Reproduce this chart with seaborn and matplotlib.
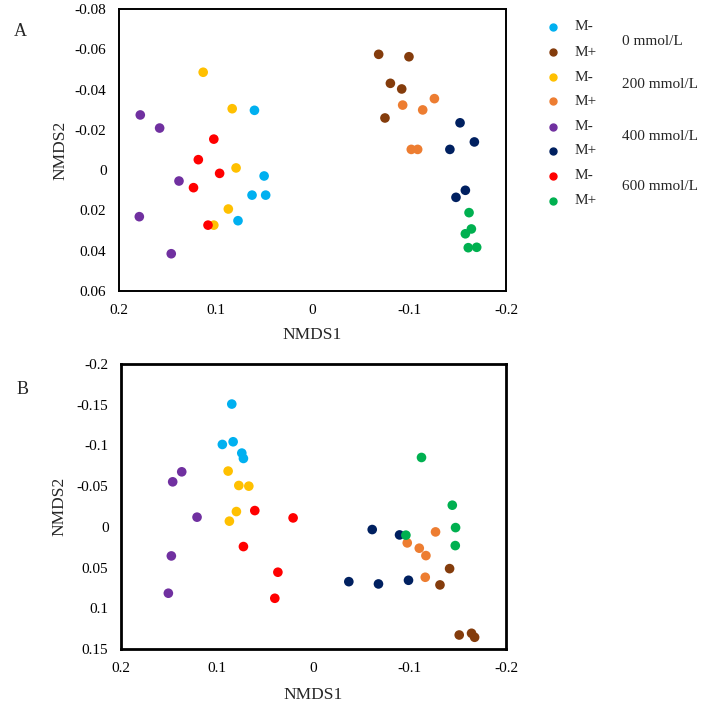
import pandas as pd
import seaborn as sns
import matplotlib.pyplot as plt
from matplotlib.lines import Line2D
from matplotlib.ticker import FuncFormatter

# Groups: salt concentration x mycorrhiza (M- / M+)
groups = ["0 M-", "0 M+", "200 M-", "200 M+", "400 M-", "400 M+", "600 M-", "600 M+"]
colors = ["#00B0F0", "#843C0C", "#FFC000", "#ED7D31", "#7030A0", "#002060", "#FF0000", "#00B050"]
legend_labels = ["M-", "M+", "M-", "M+", "M-", "M+", "M-", "M+"]
conc_labels = ["0 mmol/L", "200 mmol/L", "400 mmol/L", "600 mmol/L"]

# Panel A NMDS scores
a_x = {
    "0 M-": [0.060, 0.050, 0.0625, 0.0484, 0.077],
    "0 M+": [-0.0684, -0.0997, -0.0805, -0.0922, -0.0749],
    "200 M-": [0.113, 0.083, 0.079, 0.087, 0.102],
    "200 M+": [-0.126, -0.0932, -0.1139, -0.1021, -0.1087],
    "400 M-": [0.178, 0.158, 0.138, 0.179, 0.146],
    "400 M+": [-0.1525, -0.1673, -0.142, -0.158, -0.1483],
    "600 M-": [0.102, 0.118, 0.096, 0.123, 0.108],
    "600 M+": [-0.1618, -0.1642, -0.158, -0.161, -0.1697],
}
a_y = {
    "0 M-": [-0.0297, 0.0029, 0.0124, 0.0124, 0.0251],
    "0 M+": [-0.0575, -0.0563, -0.0431, -0.0403, -0.0259],
    "200 M-": [-0.0486, -0.0305, -0.0011, 0.0193, 0.0273],
    "200 M+": [-0.0355, -0.0323, -0.0299, -0.0103, -0.0103],
    "400 M-": [-0.0274, -0.0209, 0.0054, 0.0231, 0.0415],
    "400 M+": [-0.0235, -0.0140, -0.0103, 0.0100, 0.0135],
    "600 M-": [-0.0154, -0.0052, 0.0016, 0.0087, 0.0273],
    "600 M+": [0.0211, 0.0292, 0.0316, 0.0385, 0.0383],
}

# Panel B NMDS scores
b_x = {
    "0 M-": [0.0849, 0.0947, 0.0835, 0.0745, 0.0728],
    "0 M+": [-0.1414, -0.1314, -0.1514, -0.1642, -0.1674],
    "200 M-": [0.0887, 0.0776, 0.0672, 0.0801, 0.0874],
    "200 M+": [-0.1268, -0.0974, -0.1099, -0.1168, -0.1161],
    "400 M-": [0.1369, 0.1463, 0.121, 0.1477, 0.1508],
    "400 M+": [-0.061, -0.0894, -0.0367, -0.0675, -0.0987],
    "600 M-": [0.061, 0.0212, 0.0728, 0.037, 0.0402],
    "600 M+": [-0.1122, -0.1442, -0.1476, -0.1473, -0.096],
}
b_y = {
    "0 M-": [-0.1508, -0.1012, -0.1045, -0.0906, -0.0840],
    "0 M+": [0.0513, 0.0713, 0.1328, 0.1307, 0.1356],
    "200 M-": [-0.0685, -0.0508, -0.0500, -0.0188, -0.0070],
    "200 M+": [0.0062, 0.0197, 0.0262, 0.0353, 0.0619],
    "400 M-": [-0.0676, -0.0553, -0.0119, 0.0357, 0.0815],
    "400 M+": [0.0033, 0.0099, 0.0673, 0.0701, 0.0656],
    "600 M-": [-0.020, -0.011, 0.0242, 0.0557, 0.0877],
    "600 M+": [-0.0852, -0.0266, 0.0009, 0.0230, 0.0102],
}

a_yticks = [-0.08, -0.06, -0.04, -0.02, 0, 0.02, 0.04, 0.06]
b_yticks = [-0.2, -0.15, -0.1, -0.05, 0, 0.05, 0.1, 0.15]
xticks = [0.2, 0.1, 0, -0.1, -0.2]


def to_frame(xs, ys):
    rows = []
    for g in groups:
        for x, y in zip(xs[g], ys[g]):
            rows.append({"group": g, "NMDS1": x, "NMDS2": y})
    return pd.DataFrame(rows)


sns.set_style("white")
plt.rcParams["font.family"] = ["Liberation Serif", "DejaVu Serif"]

fig = plt.figure(figsize=(7.1, 7.06), dpi=100)
W, H = 710, 706

fmt = FuncFormatter(lambda v, p: f"{round(v, 4) + 0.0:g}")
palette = dict(zip(groups, colors))


def draw_panel(rect, xs, ys, yticks, lw, letter, letter_pos, xlab_y, ylab_x):
    left, top, right, bottom = rect
    ax = fig.add_axes([left / W, 1 - bottom / H, (right - left) / W, (bottom - top) / H])
    df = to_frame(xs, ys)
    sns.scatterplot(data=df, x="NMDS1", y="NMDS2", hue="group", hue_order=groups,
                    palette=palette, s=48, linewidth=0, legend=False, ax=ax)
    ax.set_xlim(0.2, -0.2)
    ax.set_ylim(yticks[-1], yticks[0])
    ax.set_xticks(xticks)
    ax.set_yticks(yticks)
    ax.xaxis.set_major_formatter(fmt)
    ax.yaxis.set_major_formatter(fmt)
    ax.tick_params(length=0, labelsize=11, pad=9, colors="black")
    for sp in ax.spines.values():
        sp.set_visible(True)
        sp.set_color("black")
        sp.set_linewidth(lw)
    ax.set_xlabel("NMDS1", fontsize=12.5, va="center")
    ax.set_ylabel("NMDS2", fontsize=12.5, va="center")
    ax.xaxis.set_label_coords(0.5, xlab_y)
    ax.yaxis.set_label_coords(ylab_x, 0.5)
    fig.text(letter_pos[0] / W, 1 - letter_pos[1] / H, letter, fontsize=13,
             ha="center", va="center")
    return ax


draw_panel((119, 9, 506, 291), a_x, a_y, a_yticks, 1.4, "A", (20, 32), -0.156, -0.152)
draw_panel((121, 364, 506, 649), b_x, b_y, b_yticks, 2.0, "B", (23, 390), -0.162, -0.159)

# Legend to the right of panel A
row_y = [26.7, 52.3, 77.3, 101.3, 126.7, 151.0, 175.7, 201.0]
for c, lab, y in zip(colors, legend_labels, row_y):
    fig.add_artist(Line2D([553 / W], [1 - y / H], transform=fig.transFigure,
                          marker="o", ls="", color=c, markersize=5))
    fig.text(575 / W, 1 - y / H, lab, fontsize=11, va="center", ha="left")
conc_y = [41.7, 84.0, 136.7, 186.7]
for lab, y in zip(conc_labels, conc_y):
    fig.text(622 / W, 1 - y / H, lab, fontsize=11, va="center", ha="left")

plt.savefig("out.png", dpi=100)
